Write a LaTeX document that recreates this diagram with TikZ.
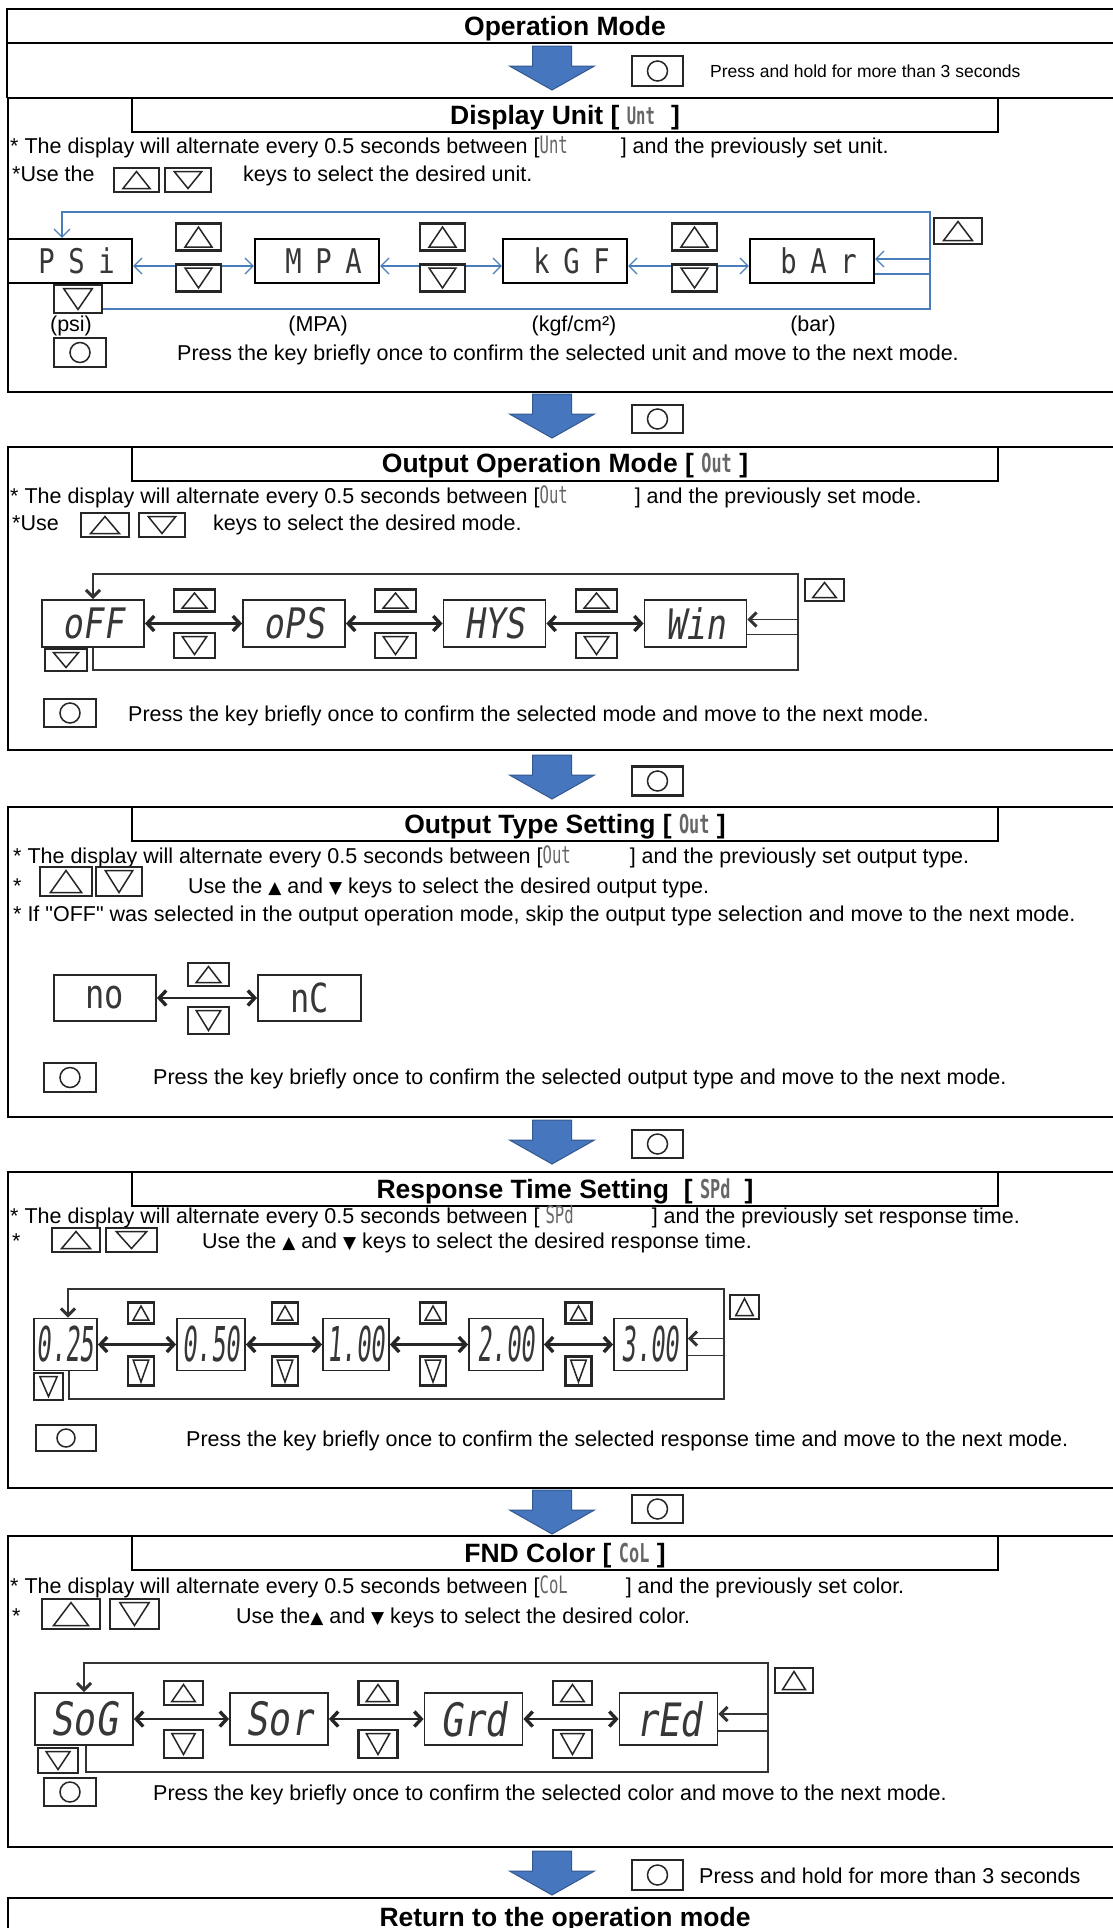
\documentclass[tikz,border=0pt]{standalone}
\usepackage{fontspec}
\setmainfont{Liberation Sans}
\newfontfamily\plainfont{Liberation Sans}
\newfontfamily\segfont{DejaVu Sans Mono}[FakeStretch=0.8]
\newfontfamily\segwide{DejaVu Sans Mono}[FakeStretch=0.8,LetterSpace=40]
\newfontfamily\segslant{DejaVu Sans Mono}[FakeStretch=0.8,FakeSlant=0.15]
\newfontfamily\segnarrow{DejaVu Sans Mono}[FakeStretch=0.5,FakeSlant=0.08]
\newfontfamily\segsmall{DejaVu Sans Mono}[FakeStretch=0.65]
\newfontfamily\symfont{DejaVu Sans}
\usetikzlibrary{arrows.meta,calc}
\definecolor{arrowblue}{RGB}{70,118,190}
\definecolor{arrowedge}{RGB}{52,88,142}
\definecolor{linkblue}{RGB}{74,126,187}
\definecolor{segink}{RGB}{55,55,55}
\newcommand\segtxt[2]{{\segsmall\fontsize{#1}{#1}\selectfont\color{black!60}#2}}
\newcommand\triup{{\symfont\fontsize{17}{17}\selectfont ▲}}
\newcommand\tridn{{\symfont\fontsize{17}{17}\selectfont ▼}}
\newcommand\dq{{\plainfont"}}

\begin{document}
\begin{tikzpicture}[x=1pt,y=-1pt,
  txt/.style={anchor=base west,inner sep=0pt,font=\fontsize{21.5}{24}\selectfont},
  small/.style={anchor=base west,inner sep=0pt,font=\fontsize{17.5}{20}\selectfont},
  ttl/.style={anchor=base,inner sep=0pt,font=\fontsize{26.5}{30}\selectfont\bfseries},
  lbl/.style={anchor=base,inner sep=0pt,font=\fontsize{21.5}{24}\selectfont},
  secframe/.style={line width=2.4pt},
  tbox/.style={draw,line width=1.8pt},
  sz/.style 2 args={minimum width=#1,minimum height=#2},
  keybox/.style={draw=black!85,line width=2.2pt,fill=white,inner sep=0pt},
  upkey/.style={keybox,path picture={
    \draw[line width=1.5pt,line join=miter]
      ($(path picture bounding box.south west)!.2!(path picture bounding box.south east)+(0,-3.5)$)
      -- ($(path picture bounding box.north)+(0,3.5)$)
      -- ($(path picture bounding box.south west)!.8!(path picture bounding box.south east)+(0,-3.5)$) -- cycle;}},
  dnkey/.style={keybox,path picture={
    \draw[line width=1.5pt,line join=miter]
      ($(path picture bounding box.north west)!.2!(path picture bounding box.north east)+(0,3.5)$)
      -- ($(path picture bounding box.south)+(0,-3.5)$)
      -- ($(path picture bounding box.north west)!.8!(path picture bounding box.north east)+(0,3.5)$) -- cycle;}},
  okkey/.style={keybox,path picture={
    \draw[line width=1.5pt] (path picture bounding box.center) circle[radius=#1];}},
  okkey/.default=10pt,
  disp/.style={draw=black!85,line width=1.8pt,fill=white,inner sep=0pt,text=segink},
  link/.style={linkblue,line width=1.3pt,>={Straight Barb[length=8pt,width=16pt]}},
  ring/.style={black!80,line width=1.7pt,>={Straight Barb[length=7pt,width=14pt,line width=3pt]}},
  dbl/.style={black!85,line width=2.8pt,>={Straight Barb[length=7pt,width=15pt,line width=3.4pt]},<->},
  bigarrow/.pic={
    \filldraw[fill=arrowblue,draw=arrowedge,line width=1pt]
      (-19.5,0) -- (19.5,0) -- (19.5,20) -- (42.5,20) -- (0,44) -- (-42.5,20) -- (-19.5,20) -- cycle;}
]
\useasboundingbox (0,0) rectangle (1113,1928);
\clip (0,0) rectangle (1113,1928);

% operation mode
\draw[secframe] (1120,9) -- (7,9) -- (7,98);
\draw[secframe] (7,43) -- (1120,43);
\node[ttl] (opmode) at (565,35.5) {Operation Mode};
\pic at (552,46) {bigarrow};
\node[okkey,sz={51}{30}] (ok0) at (657.5,71) {};
\node[small] (hold0) at (710,77) {Press and hold for more than 3 seconds};

% display unit
\draw[secframe] (1120,98) -- (8,98) -- (8,392) -- (1120,392);
\draw[tbox] (132,98) rectangle (998,132);
\node[ttl] (ttl1) at (565,124) {Display Unit [ \segtxt{24}{Unt}\hspace{16pt}]};
\node[txt] (alt1) at (10,153) {* The display will alternate every 0.5 seconds between [\segtxt{24}{Unt}\hspace{53pt}] and the previously set unit.};
\node[txt] (use1) at (12,181) {*Use the};
\node[upkey,sz={45}{24}] (ku1) at (136.5,180) {};
\node[dnkey,sz={46}{24}] (kd1) at (188,180) {};
\node[txt] (sel1) at (243,181) {keys to select the desired unit.};

\foreach \n/\x/\t in {psi/70/PSi,mpa/317/MPA,kgf/565/kGF,bar/812/bAr}
  \node[disp,draw=black,line width=2.2pt,sz={124}{44},font=\segwide\fontsize{34}{34}\selectfont] (\n) at (\x,261) {\hspace{13pt}\t};
\foreach \a/\b in {psi/mpa,mpa/kgf,kgf/bar}
  \draw[link,<->] ([yshift=-5]\a.east) -- ([yshift=-5]\b.west);
\foreach \x/\n in {198.5/1,442.5/2,694.5/3}{
  \node[upkey,sz={45}{27}] (u1\n) at (\x,237) {};
  \node[dnkey,sz={45}{27}] (d1\n) at (\x,278) {};
}
\coordinate (r1t) at (930,212);
\coordinate (r1b) at (930,309);
\draw[link,->] ([yshift=-13]bar.east) -| (r1t) -| ([xshift=-8]psi.north);
\draw[link,->] ([xshift=-8]psi.south) |- (r1b) |- ([yshift=2]bar.east);
\node[dnkey,sz={48}{28}] (d10) at (78,299) {};
\node[upkey,sz={48}{26}] (u10) at (958,231) {};
\foreach \n/\x/\t in {1/71/(psi),2/318/(MPA),3/574/{(kgf/cm²)},4/813/(bar)}
  \node[lbl] (lab\n) at (\x,331) {\t};
\node[okkey,sz={52}{29}] (ok1) at (80,352.5) {};
\node[txt] (prs1) at (177,360) {Press the key briefly once to confirm the selected unit and move to the next mode.};

\pic at (552,394) {bigarrow};
\node[okkey,sz={51}{28}] (okA) at (657.5,419) {};

% output operation mode
\draw[secframe] (1120,447) -- (8,447) -- (8,750) -- (1120,750);
\draw[tbox] (132,447) rectangle (998,481);
\node[ttl] (ttl2) at (565,472.5) {Output Operation Mode [ \segtxt{26}{Out} ]};
\node[txt] (alt2) at (10,503) {* The display will alternate every 0.5 seconds between [\segtxt{24}{Out}\hspace{67pt}] and the previously set mode.};
\node[txt] (use2) at (12,530) {*Use};
\node[upkey,sz={48}{24}] (ku2) at (105,525) {};
\node[dnkey,sz={46}{24}] (kd2) at (162,525) {};
\node[txt] (sel2) at (213,530) {keys to select the desired mode.};

\foreach \n/\x/\t in {off/93/oFF,ops/294/oPS,hys/494.5/HYS,win/695.5/Win}
  \node[disp,sz={102}{47},font=\segslant\fontsize{42}{42}\selectfont] (\n) at (\x,623.5) {\t};
\foreach \a/\b in {off/ops,ops/hys,hys/win}
  \draw[dbl] (\a) -- (\b);
\foreach \x/\n in {194.5/1,395.5/2,596.5/3}{
  \node[upkey,sz={41}{22}] (u2\n) at (\x,600.5) {};
  \node[dnkey,sz={41}{25}] (d2\n) at (\x,645.5) {};
}
\coordinate (r2t) at (798,574);
\coordinate (r2b) at (798,670);
\draw[ring,->] ([yshift=-11]win.east) -| (r2t) -| (off.north);
\draw[ring,->] (off.south) |- (r2b) |- ([yshift=4]win.east);
\node[dnkey,sz={42}{22}] (d20) at (66,660) {};
\node[upkey,sz={39}{22}] (u20) at (824.5,590) {};
\node[okkey,sz={52}{28}] (ok2) at (70,713) {};
\node[txt] (prs2) at (128,721) {Press the key briefly once to confirm the selected mode and move to the next mode.};

\pic at (552,755) {bigarrow};
\node[okkey,sz={51}{29}] (okB) at (657.5,781) {};

% output type setting
\draw[secframe] (1120,807) -- (8,807) -- (8,1117) -- (1120,1117);
\draw[tbox] (132,807) rectangle (998,841);
\node[ttl] (ttl3) at (565,833) {Output Type Setting [ \segtxt{26}{Out} ]};
\node[txt] (alt3) at (13,863) {* The display will alternate every 0.5 seconds between [\segtxt{24}{Out}\hspace{59pt}] and the previously set output type.};
\node[txt] (use3) at (13,893) {*};
\node[upkey,sz={52}{29}] (ku3) at (66,881.5) {};
\node[dnkey,sz={46}{29}] (kd3) at (119,881.5) {};
\node[txt] (sel3) at (188,893) {Use the \triup{} and \tridn{} keys to select the desired output type.};
\node[txt] (skp3) at (13,921) {* If \dq OFF\dq{} was selected in the output operation mode, skip the output type selection and move to the next mode.};

\node[disp,sz={102}{46},font=\segfont\fontsize{40}{40}\selectfont] (no) at (105,998) {no};
\node[disp,sz={103}{46},font=\segfont\fontsize{40}{40}\selectfont] (nc) at (309.5,998) {nC};
\draw[dbl] (no) -- (nc);
\node[upkey,sz={41}{23}] (u31) at (208.5,974.5) {};
\node[dnkey,sz={41}{27}] (d31) at (208.5,1020.5) {};
\node[okkey,sz={52}{29}] (ok3) at (70,1077.5) {};
\node[txt] (prs3) at (153,1084) {Press the key briefly once to confirm the selected output type and move to the next mode.};

\pic at (552,1120) {bigarrow};
\node[okkey,sz={51}{28}] (okC) at (657.5,1144) {};

% response time setting
\draw[secframe] (1120,1172) -- (8,1172) -- (8,1488) -- (1120,1488);
\draw[tbox] (132,1172) rectangle (998,1206);
\node[ttl] (ttl4) at (565,1198) {Response Time Setting \ [ \segtxt{26}{SPd}\hspace{14pt}]};
\node[txt] (alt4) at (10,1223) {* The display will alternate every 0.5 seconds between [ \segtxt{24}{SPd}\hspace{78pt}] and the previously set response time.};
\node[txt] (use4) at (12,1248) {*};
\node[upkey,sz={48}{24}] (ku4) at (76,1240) {};
\node[dnkey,sz={51}{24}] (kd4) at (131.5,1240) {};
\node[txt] (sel4) at (202,1248) {Use the \triup{} and \tridn{} keys to select the desired response time.};

\foreach \n/\x/\w/\t in {t025/65.5/63/0.25,t050/211/68/0.50,t100/356/66/1.00,t200/506/74/2.00,t300/650.5/73/3.00}
  \node[disp,sz={\w}{52},font=\segnarrow\fontsize{48}{48}\selectfont] (\n) at (\x,1344.5) {\t};
\foreach \a/\b in {t025/t050,t050/t100,t100/t200,t200/t300}
  \draw[dbl] (\a) -- (\b);
\foreach \x/\n in {141/1,285/2,433/3,578.5/4}{
  \node[upkey,sz={26}{21}] (u4\n) at (\x,1313) {};
  \node[dnkey,sz={26}{29}] (d4\n) at (\x,1371) {};
}
\coordinate (r4t) at (724,1289);
\coordinate (r4b) at (724,1399);
\draw[ring,->] ([yshift=-11]t300.east) -| (r4t) -| ([xshift=2.5]t025.north);
\draw[ring,->] ([xshift=3.5]t025.south) |- (r4b) |- ([yshift=6]t300.east);
\node[dnkey,sz={29}{27}] (d40) at (48.5,1386.5) {};
\node[upkey,sz={29}{24}] (u40) at (744.5,1307) {};
\node[okkey=9pt,sz={60}{26}] (ok4) at (66,1438) {};
\node[txt] (prs4) at (186,1446) {Press the key briefly once to confirm the selected response time and move to the next mode.};

\pic at (552,1490) {bigarrow};
\node[okkey,sz={51}{28}] (okD) at (657.5,1509) {};

% fnd color
\draw[secframe] (1120,1536) -- (8,1536) -- (8,1847) -- (1120,1847);
\draw[tbox] (132,1536) rectangle (998,1570);
\node[ttl] (ttl5) at (565,1562) {FND Color [ \segtxt{26}{CoL} ]};
\node[txt] (alt5) at (10,1593) {* The display will alternate every 0.5 seconds between [\segtxt{24}{CoL}\hspace{58pt}] and the previously set color.};
\node[txt] (use5) at (12,1623) {*};
\node[upkey,sz={58}{30}] (ku5) at (71,1614) {};
\node[dnkey,sz={49}{30}] (kd5) at (134.5,1614) {};
\node[txt] (sel5) at (236,1623) {Use the\triup{} and \tridn{} keys to select the desired color.};

\foreach \n/\x/\t in {sog/84/SoG,sor/279/Sor,grd/473.5/Grd,red/668.5/rEd}
  \node[disp,sz={98}{52},font=\segslant\fontsize{46}{46}\selectfont] (\n) at (\x,1719) {\t};
\foreach \a/\b in {sog/sor,sor/grd,grd/red}
  \draw[dbl] (\a) -- (\b);
\foreach \x/\n in {183.5/1,378/2,572.5/3}{
  \node[upkey,sz={39}{24}] (u5\n) at (\x,1693) {};
  \node[dnkey,sz={39}{28}] (d5\n) at (\x,1744) {};
}
\coordinate (r5t) at (768,1663);
\coordinate (r5b) at (768,1772);
\draw[ring,->] ([yshift=-12]red.east) -| (r5t) -| (sog.north);
\draw[ring,->] ([xshift=2]sog.south) |- (r5b) |- ([yshift=5]red.east);
\node[dnkey,sz={40}{25}] (d50) at (58,1760.5) {};
\node[upkey,sz={38}{25}] (u50) at (794,1680.5) {};
\node[okkey,sz={52}{28}] (ok5) at (70,1792) {};
\node[txt] (prs5) at (153,1800) {Press the key briefly once to confirm the selected color and move to the next mode.};

% return
\pic at (552,1851) {bigarrow};
\node[okkey,sz={51}{30}] (okE) at (657.5,1875) {};
\node[txt] (hold1) at (699,1883) {Press and hold for more than 3 seconds};
\draw[secframe] (1120,1898) -- (8,1898) -- (8,1940);
\node[ttl] (ret) at (565,1926) {Return to the operation mode};

\end{tikzpicture}
\end{document}
